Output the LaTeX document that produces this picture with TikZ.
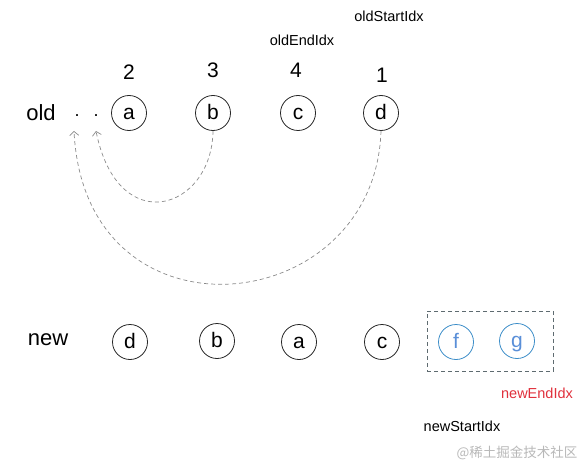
\documentclass[tikz,border=0pt]{standalone}
\usepackage{fontspec}
\setmainfont{Liberation Sans}
\newfontfamily\cjkfont{Noto Sans CJK SC}
\usetikzlibrary{arrows.meta}
\definecolor{arcgray}{HTML}{8A8A8A}
\definecolor{boxgray}{HTML}{5E6B70}
\definecolor{circblue}{HTML}{3C8DC8}
\definecolor{letblue}{HTML}{5A8FD8}
\definecolor{idxred}{HTML}{E0303C}
\tikzset{
  elem/.style={draw=black!85, line width=0.8pt, circle, minimum size=35pt, inner sep=0pt, text height=12.5pt, text depth=0pt, font=\fontsize{21}{21}\selectfont},
  newelem/.style={elem, draw=circblue, text=letblue},
  rowlbl/.style={font=\fontsize{22}{22}\selectfont, inner sep=0pt},
  numlbl/.style={font=\fontsize{21}{21}\selectfont, inner sep=0pt},
  idxlbl/.style={font=\fontsize{14.5}{14.5}\selectfont, inner sep=0pt},
  dotlbl/.style={font=\fontsize{18}{18}\selectfont, inner sep=0pt},
  movearc/.style={draw=arcgray, dashed, line width=0.7pt, dash pattern=on 4pt off 3pt, -{Straight Barb[length=4pt,width=9pt]}},
}
\begin{document}
\begin{tikzpicture}[x=1pt,y=-1pt]
\useasboundingbox (0,0) rectangle (585,473);
% old row
\node[rowlbl] (old) at (41,113) {old};
\node[dotlbl] (dot1) at (77,116) {.};
\node[dotlbl] (dot2) at (96,116) {.};
\node[elem] (oa) at (129,113) {a};
\node[elem] (ob) at (213,113) {b};
\node[elem] (oc) at (298,113) {c};
\node[elem] (od) at (381,113) {d};
% numbers
\node[numlbl] (n2) at (129,72) {2};
\node[numlbl] (n3) at (213,70) {3};
\node[numlbl] (n4) at (296,70) {4};
\node[numlbl] (n1) at (382,75) {1};
% index labels
\node[idxlbl] (oldEnd) at (302,40) {oldEndIdx};
\node[idxlbl] (oldStart) at (389,16) {oldStartIdx};
% arcs
\coordinate (t2) at (96,131);
\coordinate (t1) at (74,131);
\draw[movearc] (ob.south) .. controls (212,210) and (118,240) .. (t2);
\draw[movearc] (od.south) .. controls (375,320) and (85,350) .. (t1);
% new row
\node[rowlbl] (new) at (48,340) {new};
\node[elem] (nd) at (130,342) {d};
\node[elem] (nb) at (217,341) {b};
\node[elem] (na) at (299,342) {a};
\node[elem] (nc) at (382,342) {c};
\node[newelem] (nf) at (456,342) {f};
\node[newelem] (ng) at (517,341) {g};
\node[draw=boxgray, dashed, dash pattern=on 4pt off 3pt, line width=0.7pt, minimum width=126pt, minimum height=60pt, inner sep=0pt] (box) at (490,341) {};
\node[idxlbl, text=idxred] (newEnd) at (537,393) {newEndIdx};
\node[idxlbl] (newStart) at (462,426) {newStartIdx};
\node[inner sep=0pt, text=black!28, font=\cjkfont\fontsize{13.5}{13.5}\selectfont] (wm) at (517,453) {@稀土掘金技术社区};
\end{tikzpicture}
\end{document}
